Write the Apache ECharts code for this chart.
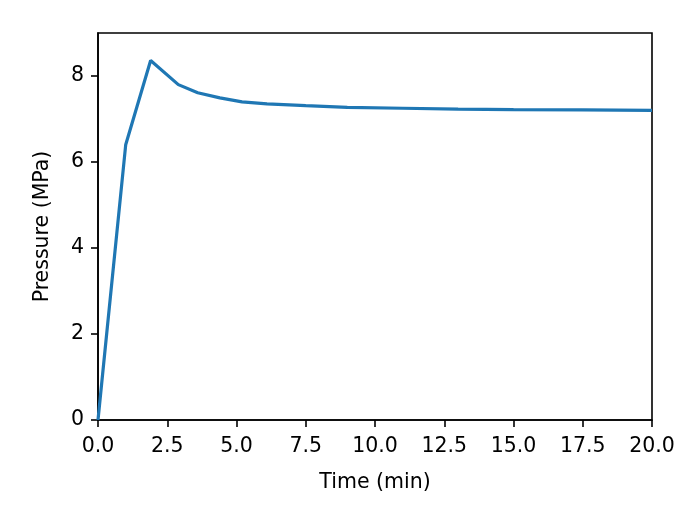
<!DOCTYPE html>
<html>
<head>
<meta charset="utf-8">
<script src="https://cdn.jsdelivr.net/npm/echarts@6/dist/echarts.min.js"></script>
<style>
  html, body { margin: 0; padding: 0; background: #fff; }
  #chart { width: 700px; height: 525px; }
</style>
</head>
<body>
<div id="chart"></div>
<script>
// values
const times = [0, 1.0, 1.9, 2.9, 3.6, 4.4, 5.2, 6.1, 7.5, 9.0, 11.0, 13.0, 15.0, 17.5, 20.0];
const pressures = [0, 6.4, 8.36, 7.8, 7.61, 7.49, 7.4, 7.35, 7.31, 7.27, 7.25, 7.23, 7.22, 7.21, 7.2];
const yTicks = [0, 2, 4, 6, 8];

const font = "DejaVu Sans";
const fontSize = 20.5;
const chart = echarts.init(document.getElementById("chart"), null, { renderer: "canvas" });

let option = {
  animation: false,
  grid: {
    left: 98,
    right: 48,
    top: 33,
    bottom: 105,
    show: true,
    borderColor: "#000",
    borderWidth: 1.6,
    backgroundColor: "transparent",
  },
  xAxis: {
    type: "value",
    min: 0,
    max: 20,
    interval: 2.5,
    name: "Time (min)",
    nameLocation: "middle",
    nameGap: 52,
    nameTextStyle: { color: "#000", fontFamily: font, fontSize: fontSize },
    axisLine: { lineStyle: { color: "#000", width: 1.6 } },
    axisTick: { length: 7, lineStyle: { color: "#000", width: 1.6 } },
    axisLabel: {
      color: "#000",
      fontFamily: font,
      fontSize: fontSize,
      margin: 16,
      formatter: (v) => v.toFixed(1),
    },
    splitLine: { show: false },
  },
  yAxis: {
    type: "value",
    min: 0,
    max: 9,
    name: "Pressure (MPa)",
    nameLocation: "middle",
    nameGap: 45,
    nameTextStyle: { color: "#000", fontFamily: font, fontSize: fontSize },
    axisLine: { lineStyle: { color: "#000", width: 1.6 } },
    axisTick: { length: 7, customValues: yTicks, lineStyle: { color: "#000", width: 1.6 } },
    axisLabel: {
      color: "#000",
      fontFamily: font,
      fontSize: fontSize,
      margin: 14,
      customValues: yTicks,
    },
    splitLine: { show: false },
  },
  series: [
    {
      type: "line",
      data: times.map((t, i) => [t, pressures[i]]),
      showSymbol: false,
      lineStyle: { color: "#1f77b4", width: 3.2 },
      itemStyle: { color: "#1f77b4" },
      clip: true,
    },
  ],
};
chart.setOption(option);
</script>
</body>
</html>
